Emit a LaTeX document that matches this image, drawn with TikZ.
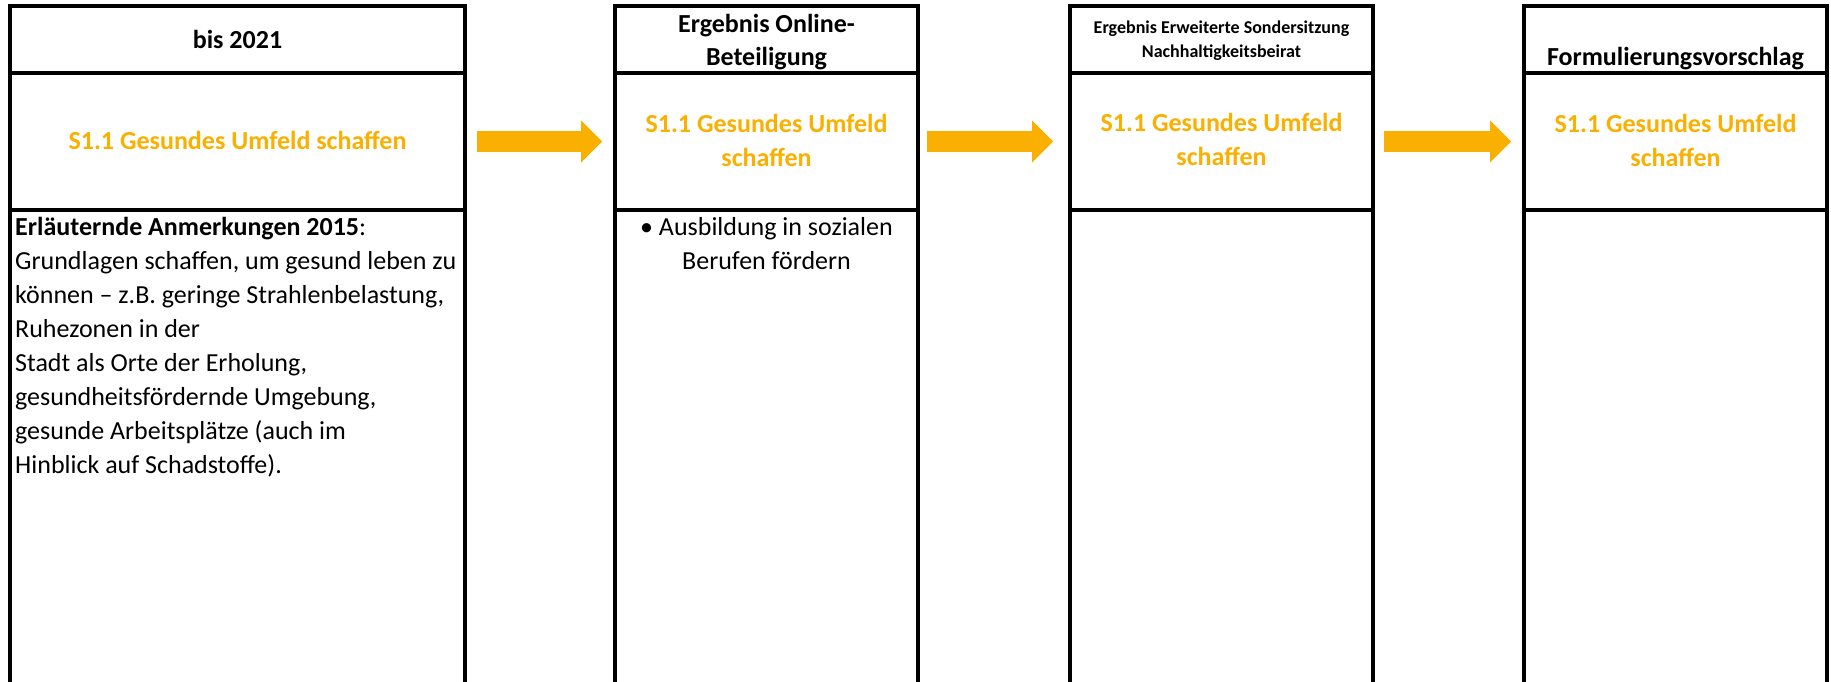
\documentclass[tikz,border=0pt]{standalone}
\usepackage{fontspec}
\setmainfont{Carlito}
\usetikzlibrary{arrows.meta}
\definecolor{sorange}{RGB}{250,176,0}
\begin{document}
\begin{tikzpicture}[x=1pt,y=-1pt,
  natsp/.style={execute at begin node={\spaceskip=\fontdimen2\font\relax\xspaceskip=0pt\relax}},
  cell/.style={draw, line width=3.5pt, inner sep=0pt, outer sep=0pt, anchor=north west},
  blank/.style={inner sep=0pt, outer sep=0pt, anchor=north west},
  col1/.style={minimum width=455pt},
  colx/.style={minimum width=303pt},
  headcell/.style={minimum height=67pt},
  midcell/.style={minimum height=137pt},
  botcell/.style={minimum height=480pt},
  vline/.style={line width=3.5pt},
  big/.style={natsp, font=\fontsize{26}{34}\selectfont},
  bigb/.style={natsp, font=\bfseries\fontsize{26}{33}\selectfont},
  smallb/.style={natsp, font=\bfseries\fontsize{18}{24}\selectfont},
  ctext/.style={inner sep=0pt, anchor=base, text width=300pt, align=center},
  otext/.style={ctext, natsp, text=sorange, font=\bfseries\fontsize{26}{34}\selectfont},
  arr/.style={sorange, line width=21pt, -{Triangle[length=21pt,width=42pt,line width=0pt]}}
]
\useasboundingbox (0,0) rectangle (1831,681);
\fill[white] (0,0) rectangle (1831,681);

% cells
\node[cell,col1,headcell] (h1) at (10,6) {};
\node[cell,col1,midcell] (m1) at (10,73) {};
\node[blank,col1,botcell] (b1) at (10,210) {};
\node[cell,colx,headcell] (h2) at (615,6) {};
\node[cell,colx,midcell] (m2) at (615,73) {};
\node[blank,colx,botcell] (b2) at (615,210) {};
\node[cell,colx,headcell] (h3) at (1070,6) {};
\node[cell,colx,midcell] (m3) at (1070,73) {};
\node[blank,colx,botcell] (b3) at (1070,210) {};
\node[cell,colx,headcell] (h4) at (1524,6) {};
\node[cell,colx,midcell] (m4) at (1524,73) {};
\node[blank,colx,botcell] (b4) at (1524,210) {};
\foreach \b in {b1,b2,b3,b4}{
  \draw[vline] (\b.north west) -- (\b.south west);
  \draw[vline] (\b.north east) -- (\b.south east);
}

% headers
\node[ctext,bigb] (t1) at (237.5,48) {bis 2021};
\node[ctext,bigb] (t2) at (766.5,32.5) {Ergebnis Online-\\Beteiligung};
\node[ctext,smallb] (t3) at (1221.5,33.3) {Ergebnis Erweiterte Sondersitzung\\Nachhaltigkeitsbeirat};
\node[ctext,bigb] (t4) at (1675.5,65) {Formulierungsvorschlag};

% orange titles
\node[otext,text width=440pt] (o1) at (237.5,149.7) {S1.1 Gesundes Umfeld schaffen};
\node[otext] (o2) at (766.5,132.7) {S1.1 Gesundes Umfeld\\schaffen};
\node[otext] (o3) at (1221.5,131.7) {S1.1 Gesundes Umfeld\\schaffen};
\node[otext] (o4) at (1675.5,132.7) {S1.1 Gesundes Umfeld\\schaffen};

% bodies
\node[big, inner sep=0pt, anchor=base west, text width=470pt, align=left] (n1) at (15,235.7)
 {\textbf{Erläuternde Anmerkungen 2015}:\\Grundlagen schaffen, um gesund leben zu\\können – z.B. geringe Strahlenbelastung,\\Ruhezonen in der\\Stadt als Orte der Erholung,\\gesundheitsfördernde Umgebung,\\gesunde Arbeitsplätze (auch im\\Hinblick auf Schadstoffe).};
\node[ctext,big] (n2) at (766.5,235.7) {• Ausbildung in sozialen\\Berufen fördern};

% arrows
\draw[arr, shorten <=12pt, shorten >=13pt] (m1.east) -- (m2.west);
\draw[arr, shorten <=9pt, shorten >=17pt] (m2.east) -- (m3.west);
\draw[arr, shorten <=11pt, shorten >=13pt] (m3.east) -- (m4.west);
\end{tikzpicture}
\end{document}
